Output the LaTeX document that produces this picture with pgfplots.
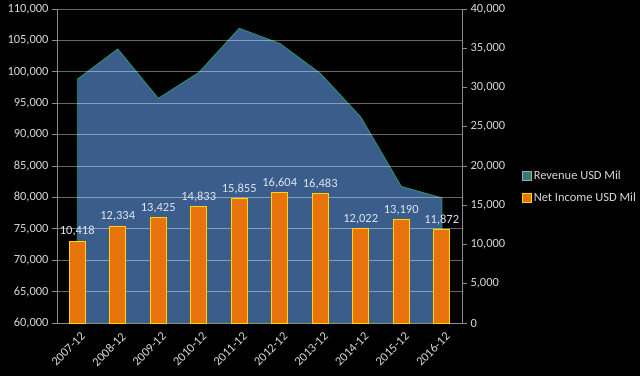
\documentclass[border=0pt]{standalone}
\usepackage{pgfplots}
\pgfplotsset{compat=1.18}
\usepackage{fontspec}
\setmainfont{Carlito}
\definecolor{areafill}{RGB}{59,93,139}
\definecolor{areaedge}{RGB}{44,140,110}
\definecolor{barfill}{RGB}{232,114,12}
\definecolor{baredge}{RGB}{255,215,0}
\definecolor{txt}{RGB}{217,217,217}
\definecolor{lbl}{RGB}{220,230,242}
\definecolor{axgray}{RGB}{140,140,140}
\definecolor{legteal}{RGB}{46,125,122}
\begin{document}
\begin{tikzpicture}[x=1bp,y=1bp]
\fill[black] (0,0) rectangle (640,376);
\pgfplotsset{
  every axis/.append style={
    at={(57bp,53bp)}, anchor=south west,
    width=405bp, height=314bp, scale only axis,
    xmin=-0.5, xmax=9.5,
    scaled y ticks=false, scaled x ticks=false,
    tick label style={font=\fontsize{12.5}{14}\selectfont, text=txt},
    tick align=outside,
    axis line style={axgray, line width=0.8pt},
    major tick style={axgray, line width=0.8pt},
    minor tick style={axgray, line width=0.8pt},
    major tick length=5bp, minor tick length=5bp,
  }
}
\begin{axis}[
  axis x line*=bottom, axis y line*=left,
  ymin=60000, ymax=110000,
  ytick={60000,65000,70000,75000,80000,85000,90000,95000,100000,105000,110000},
  yticklabels={{60,000},{65,000},{70,000},{75,000},{80,000},{85,000},{90,000},{95,000},{100,000},{105,000},{110,000}},
  ymajorgrids,
  grid style={white, opacity=0.4, line width=0.8pt},
  axis on top,
  xtick={0,1,2,3,4,5,6,7,8,9},
  xticklabels={2007-12,2008-12,2009-12,2010-12,2011-12,2012-12,2013-12,2014-12,2015-12,2016-12},
  xticklabel style={rotate=45, anchor=north east, xshift=3bp, yshift=-1bp},
  xtick style={draw=none},
  minor xtick={-0.5,0.5,1.5,2.5,3.5,4.5,5.5,6.5,7.5,8.5,9.5},
]
\addplot[fill=areafill, draw=areaedge, line width=1pt] coordinates {
(0,98786) (1,103630) (2,95758) (3,99870) (4,106916) (5,104507) (6,99751) (7,92793) (8,81741) (9,79919)
} \closedcycle;
\end{axis}
\begin{axis}[
  axis y line*=right, axis x line=none,
  ymin=0, ymax=40000,
  ytick={0,5000,10000,15000,20000,25000,30000,35000,40000},
  yticklabels={0,{5,000},{10,000},{15,000},{20,000},{25,000},{30,000},{35,000},{40,000}},
  ybar, bar width=16bp,
  point meta=explicit symbolic,
  nodes near coords,
  every node near coord/.append style={font=\fontsize{12.5}{14}\selectfont, text=lbl, anchor=south, yshift=1bp},
  legend style={at={(1.14,0.433)}, anchor=west, fill=none, draw=none, text=txt,
    font=\fontsize{12.5}{14}\selectfont, row sep=8bp,
    legend cell align=left},
  legend image code/.code={\draw[#1] (0bp,-4.5bp) rectangle (9bp,4.5bp);},
]
\addlegendimage{fill=legteal, draw=gray!70}
\addlegendentry{Revenue USD Mil}
\addplot[fill=barfill, draw=baredge, line width=0.9pt] coordinates {
(0,10418) [10,418] (1,12334) [12,334] (2,13425) [13,425] (3,14833) [14,833] (4,15855) [15,855]
(5,16604) [16,604] (6,16483) [16,483] (7,12022) [12,022] (8,13190) [13,190] (9,11872) [11,872]
};
\addlegendentry{Net Income USD Mil}
\end{axis}
\pgfresetboundingbox
\useasboundingbox (0,0) rectangle (640,376);
\end{tikzpicture}
\end{document}
